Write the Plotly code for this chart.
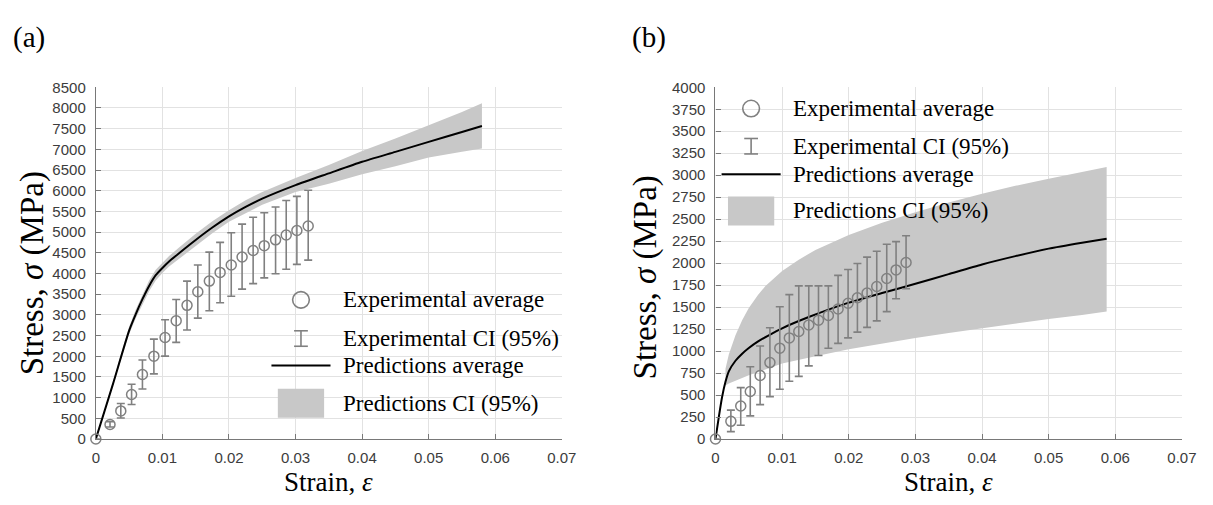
import plotly.graph_objects as go

W, H = 1213, 505

# ---------------- Panel (a) data ----------------
a_exp_strain = [0, 0.00213, 0.00375, 0.00537, 0.0070, 0.00872, 0.0104, 0.01207, 0.0137, 0.01532,
                0.01705, 0.01867, 0.02034, 0.02197, 0.02363, 0.0253, 0.027, 0.0286, 0.0302, 0.0319]
a_exp_stress = [0, 350, 680, 1075, 1558, 2002, 2453, 2858, 3231, 3558,
                3816, 4026, 4206, 4400, 4556, 4673, 4813, 4930, 5040, 5147]
a_exp_high = [0, 420, 857, 1325, 1909, 2414, 2881, 3372, 3816, 4206,
              4517, 4751, 4984, 5194, 5358, 5467, 5607, 5763, 5864, 6012]
a_exp_low = [0, 290, 507, 834, 1208, 1573, 2002, 2336, 2633, 2921,
             3100, 3294, 3450, 3621, 3754, 3895, 3995, 4104, 4221, 4322]

a_pred_strain = [0, 0.0025, 0.005, 0.006, 0.007, 0.008, 0.009, 0.01, 0.011, 0.0125, 0.015,
                 0.0175, 0.02, 0.0225, 0.025, 0.03, 0.035, 0.04, 0.045, 0.05, 0.055, 0.058]
a_pred_mean = [0, 1290, 2620, 3020, 3380, 3700, 3960, 4134, 4290, 4490, 4810,
               5110, 5380, 5610, 5810, 6137, 6420, 6700, 6940, 7180, 7420, 7564]
a_pred_high = [0, 1340, 2710, 3130, 3500, 3830, 4090, 4260, 4420, 4630, 4960,
               5260, 5530, 5770, 5970, 6310, 6620, 6960, 7260, 7580, 7900, 8112]
a_pred_low = [0, 1240, 2530, 2920, 3260, 3570, 3830, 4010, 4170, 4360, 4670,
              4970, 5250, 5460, 5660, 5970, 6170, 6400, 6590, 6800, 6940, 7020]

# ---------------- Panel (b) data ----------------
b_exp_strain = [0, 0.00231, 0.00379, 0.00522, 0.0067, 0.00817, 0.00965, 0.01108, 0.0125, 0.0140,
                0.01546, 0.01694, 0.0184, 0.0199, 0.0213, 0.02275, 0.0242, 0.0257, 0.0271, 0.0286]
b_exp_stress = [0, 201, 376, 540, 723, 869, 1033, 1150, 1223, 1296,
                1350, 1405, 1478, 1544, 1606, 1661, 1734, 1825, 1923, 2007]
b_exp_high = [0, 329, 584, 821, 1058, 1266, 1504, 1642, 1741, 1741,
              1741, 1741, 1861, 1927, 1996, 2069, 2135, 2215, 2245, 2311]
b_exp_low = [0, 84, 157, 263, 391, 482, 566, 657, 712, 832,
             949, 1033, 1088, 1150, 1215, 1270, 1343, 1449, 1595, 1708]

b_pred_strain = [0, 0.0005, 0.001, 0.0015, 0.002, 0.003, 0.004, 0.005, 0.0064, 0.008, 0.01,
                 0.014, 0.02, 0.025, 0.03, 0.035, 0.04, 0.045, 0.05, 0.055, 0.0587]
b_pred_mean = [0, 250, 480, 650, 770, 890, 970, 1035, 1110, 1180, 1259,
               1387, 1551, 1660, 1765, 1875, 1985, 2080, 2165, 2232, 2278]

b_band_strain = [0.0015, 0.002, 0.003, 0.004, 0.005, 0.0064, 0.0075, 0.01, 0.0125, 0.015,
                 0.02, 0.025, 0.03, 0.035, 0.04, 0.045, 0.05, 0.055, 0.0587]
b_band_high = [800, 960, 1180, 1350, 1490, 1640, 1740, 1910, 2040, 2150,
               2320, 2460, 2580, 2690, 2790, 2880, 2960, 3040, 3093]
b_band_low = [610, 630, 665, 695, 725, 766, 790, 858, 900, 940,
              1022, 1090, 1150, 1205, 1259, 1315, 1366, 1410, 1451]

x_ticks = [0, 0.01, 0.02, 0.03, 0.04, 0.05, 0.06, 0.07]
x_ticktext = ["0", "0.01", "0.02", "0.03", "0.04", "0.05", "0.06", "0.07"]
a_yticks = list(range(0, 8501, 500))
b_yticks = list(range(0, 4001, 250))

legend_labels = ["Experimental average", "Experimental CI (95%)",
                 "Predictions average", "Predictions CI (95%)"]

# ---------------- styles ----------------
BAND = "rgb(200,200,200)"
GREY = "rgb(128,128,128)"
SERIF = "Liberation Serif"
SANS = "Liberation Sans"


def px(x):
    return x / W


def py(y):
    return 1 - y / H


fig = go.Figure()


def add_panel(xa, ya, bx, bhigh, blow, px_, pm, ex, es, eh, el):
    fig.add_trace(go.Scatter(
        x=list(bx) + list(bx)[::-1], y=list(bhigh) + list(blow)[::-1],
        fill="toself", fillcolor=BAND, line=dict(width=0), mode="lines",
        hoverinfo="skip", showlegend=False, xaxis=xa, yaxis=ya))
    fig.add_trace(go.Scatter(
        x=px_, y=pm, mode="lines", line=dict(color="black", width=2, shape="spline", smoothing=0.6),
        showlegend=False, xaxis=xa, yaxis=ya))
    fig.add_trace(go.Scatter(
        x=ex, y=es, mode="markers",
        marker=dict(symbol="circle-open", size=10, color=GREY, line=dict(width=1.5, color=GREY)),
        error_y=dict(type="data", symmetric=False,
                     array=[h - s for h, s in zip(eh, es)],
                     arrayminus=[s - l for s, l in zip(es, el)],
                     color=GREY, thickness=1.6, width=4),
        cliponaxis=False, showlegend=False, xaxis=xa, yaxis=ya))


add_panel("x", "y", a_pred_strain, a_pred_high, a_pred_low, a_pred_strain, a_pred_mean,
          a_exp_strain, a_exp_stress, a_exp_high, a_exp_low)
add_panel("x2", "y2", b_band_strain, b_band_high, b_band_low, b_pred_strain, b_pred_mean,
          b_exp_strain, b_exp_stress, b_exp_high, b_exp_low)

# plot areas (pixels)
A = dict(x0=93.3, x1=566.7)
B = dict(x0=722.8, x1=1196.7)
Y0, Y1 = 81.0, 445.0

axis_common = dict(
    showline=True, linecolor="rgb(120,120,120)", linewidth=1.2,
    showgrid=True, gridcolor="rgb(226,226,226)", gridwidth=1,
    zeroline=False, ticks="inside", ticklen=5, tickcolor="rgb(120,120,120)",
    tickfont=dict(family=SANS, size=15, color="rgb(60,60,60)"),
)

fig.update_layout(
    width=W, height=H, margin=dict(l=0, r=0, t=0, b=0),
    paper_bgcolor="white", plot_bgcolor="white", showlegend=False,
    xaxis=dict(domain=[px(A["x0"]), px(A["x1"])], range=[0, 0.07], anchor="y",
               tickvals=x_ticks, ticktext=x_ticktext, ticklabelstandoff=5, **axis_common),
    yaxis=dict(domain=[py(Y1), py(Y0)], range=[0, 8500], anchor="x",
               tickvals=a_yticks, ticklabelstandoff=6, **axis_common),
    xaxis2=dict(domain=[px(B["x0"]), px(B["x1"])], range=[0, 0.07], anchor="y2",
                tickvals=x_ticks, ticktext=x_ticktext, ticklabelstandoff=5, **axis_common),
    yaxis2=dict(domain=[py(Y1), py(Y0)], range=[0, 4000], anchor="x2",
                tickvals=b_yticks, ticklabelstandoff=6, **axis_common),
)

ann = []
shapes = []


def text(x, y, s, size, xanchor="center", angle=0, yanchor="middle"):
    ann.append(dict(x=px(x), y=py(y), xref="paper", yref="paper", text=s, showarrow=False,
                    xanchor=xanchor, yanchor=yanchor, textangle=angle, borderpad=0,
                    font=dict(family=SERIF, size=size, color="black")))


# panel labels and axis titles
text(25, 29, "(a)", 29)
text(655, 29, "(b)", 29)
text((A["x0"] + A["x1"]) / 2, 506, "Strain, <i>ε</i>", 27, yanchor="bottom")
text((B["x0"] + B["x1"]) / 2, 506, "Strain, <i>ε</i>", 27, yanchor="bottom")
text(29, 274, "Stress, <i>σ</i> (MPa)", 33, angle=-90)
text(652, 278, "Stress, <i>σ</i> (MPa)", 33, angle=-90)


def legend(cx, ys, tx):
    r = 8.5
    shapes.append(dict(type="circle", xref="paper", yref="paper",
                       x0=px(cx - r), x1=px(cx + r), y0=py(ys[0] + r), y1=py(ys[0] - r),
                       line=dict(color=GREY, width=1.6)))
    h = 8
    for seg in [(cx, ys[1] - h, cx, ys[1] + h), (cx - 7, ys[1] - h, cx + 7, ys[1] - h),
                (cx - 7, ys[1] + h, cx + 7, ys[1] + h)]:
        shapes.append(dict(type="line", xref="paper", yref="paper",
                           x0=px(seg[0]), y0=py(seg[1]), x1=px(seg[2]), y1=py(seg[3]),
                           line=dict(color=GREY, width=1.6)))
    shapes.append(dict(type="line", xref="paper", yref="paper",
                       x0=px(cx - 30), x1=px(cx + 30), y0=py(ys[2]), y1=py(ys[2]),
                       line=dict(color="black", width=2)))
    shapes.append(dict(type="rect", xref="paper", yref="paper",
                       x0=px(cx - 23.5), x1=px(cx + 23.5), y0=py(ys[3] + 15), y1=py(ys[3] - 15),
                       fillcolor=BAND, line=dict(width=0)))
    for yy, lab in zip(ys, legend_labels):
        text(tx, yy, lab, 23, xanchor="left")


legend(301.7, [301, 341, 369, 408], 343)
legend(759, [103, 142, 171, 209], 801)

fig.update_layout(annotations=ann, shapes=shapes)
fig.write_html("out.html")
